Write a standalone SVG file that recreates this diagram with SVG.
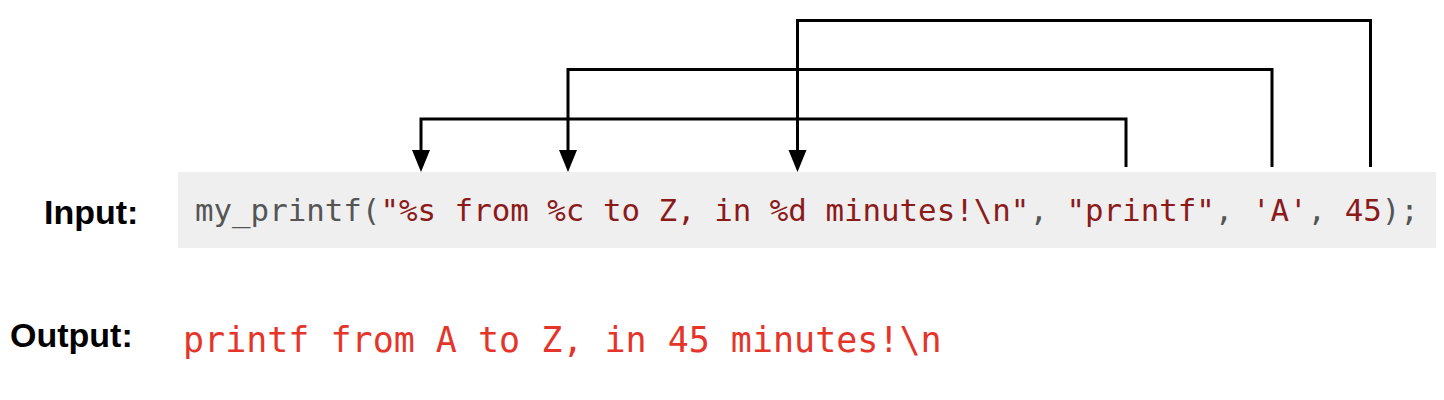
<svg xmlns="http://www.w3.org/2000/svg" width="1444" height="400" viewBox="0 0 1444 400">
<defs>
<style>
.lbl{font-family:"Liberation Sans",Arial,sans-serif;font-weight:bold;font-size:34px;fill:#000}
.code{font-family:"DejaVu Sans Mono",monospace;font-size:30.8px;fill:#555}
.str{fill:#8b1a1a}
.out{font-family:"DejaVu Sans Mono",monospace;font-size:35px;fill:#e5352a}
.conn{fill:none;stroke:#000;stroke-width:3;stroke-linejoin:miter}
</style>
<marker id="head" markerUnits="userSpaceOnUse" markerWidth="24" markerHeight="20" viewBox="0 -10 24 20" refX="0" refY="0" orient="auto">
<path d="M0,-9 L22,0 L0,9 z" fill="#000"/>
</marker>
</defs>
<g id="input-label"><text class="lbl" x="44" y="224">Input:</text></g>
<g id="input-code">
<rect x="178" y="172" width="1258" height="76" fill="#efefef"/>
<text class="code" x="195" y="221" xml:space="preserve">my_printf(<tspan class="str">"%s from %c to Z, in %d minutes!\n"</tspan>, <tspan class="str">"printf"</tspan>, <tspan class="str">'A'</tspan>, <tspan class="str">45</tspan>);</text>
</g>
<g id="output-label"><text class="lbl" x="10" y="347">Output:</text></g>
<g id="output-text"><text class="out" x="183" y="352" xml:space="preserve">printf from A to Z, in 45 minutes!\n</text></g>
<g id="connectors">
<path class="conn" d="M1126,167 V119 H421 V150" marker-end="url(#head)"/>
<path class="conn" d="M1272,167 V69.5 H568 V150" marker-end="url(#head)"/>
<path class="conn" d="M1370.5,167 V20.5 H797.5 V150" marker-end="url(#head)"/>
</g>
</svg>
